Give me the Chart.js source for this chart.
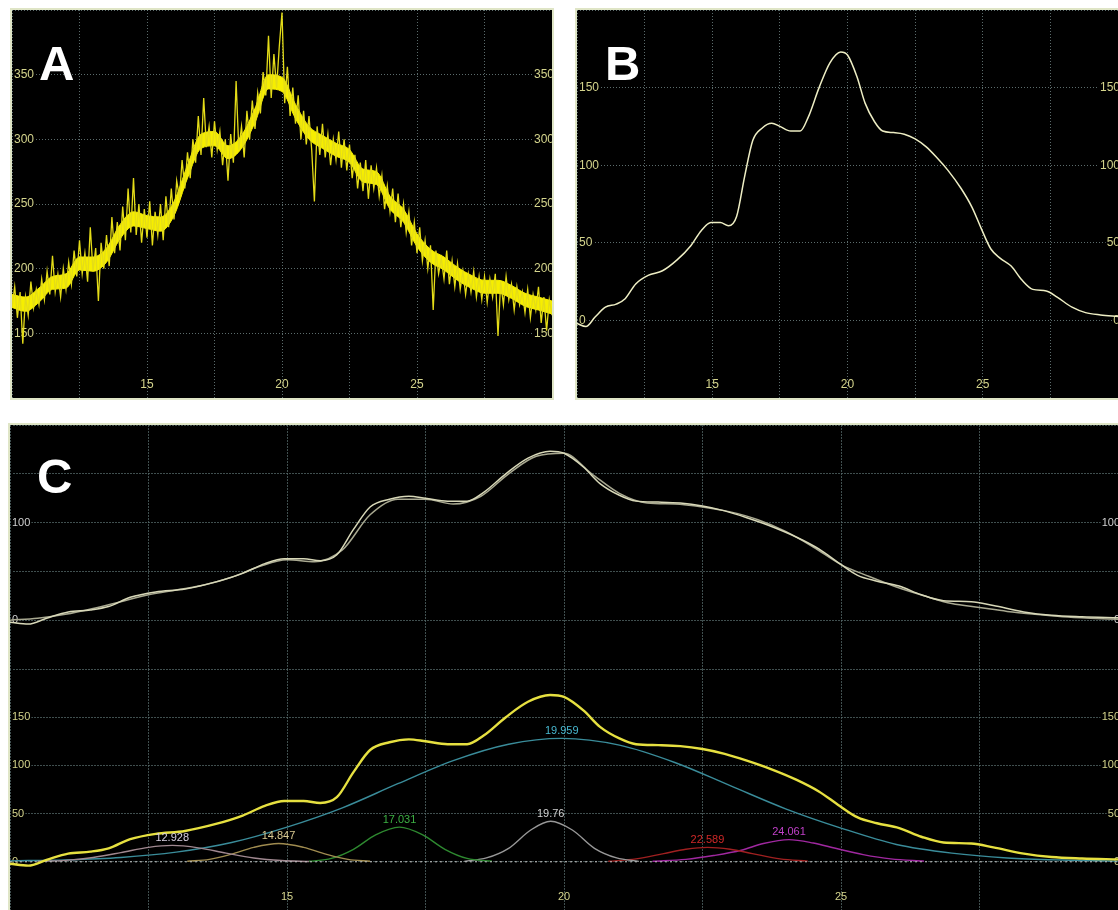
<!DOCTYPE html>
<html>
<head>
<meta charset="utf-8">
<script src="https://cdn.jsdelivr.net/npm/chart.js@4.4.0/dist/chart.umd.min.js"></script>
<style>
  body {
    margin: 0;
    width: 1118px;
    height: 910px;
    overflow: hidden;
    position: relative;
    background: #fff;
    font-family: "Liberation Sans", Arial, sans-serif;
  }
  .panel { position: absolute; background: #000; border: 2px solid #dfe5c6; }
  #panelA { left: 10px; top: 8px; width: 540px; height: 388px; }
  #panelB { left: 575px; top: 8px; width: 541px; height: 388px; }
  #panelC { left: 8px; top: 423px; width: 1108px; height: 485px; }
  canvas { display: block; }
  .tag {
    position: absolute;
    color: #fff;
    font: bold 49px "Liberation Sans", Arial, sans-serif;
    line-height: 1;
  }
</style>
</head>
<body>
<div class="panel" id="panelA"><canvas id="chartA" width="540" height="388"></canvas></div>
<div class="panel" id="panelB"><canvas id="chartB" width="541" height="388"></canvas></div>
<div class="panel" id="panelC">
  <canvas id="chartCTop" width="1108" height="244"></canvas>
  <canvas id="chartCBottom" width="1108" height="241"></canvas>
</div>
<div class="tag" style="left:39px; top:39px;">A</div>
<div class="tag" style="left:605px; top:39px;">B</div>
<div class="tag" style="left:37px; top:452px;">C</div>

<script>
// ---------------- DATA -----------------------------

// A: raw signal, one reading every 0.1 from x = 10 to x = 30
const rawStart = 10;
const rawStep = 0.1;
const rawY = [
  170, 186, 162, 182, 142, 178, 164, 190, 170, 184,
  172, 192, 176, 198, 180, 210, 182, 196, 178, 200,
  184, 205, 188, 214, 194, 222, 196, 212, 190, 232,
  198, 216, 175, 220, 200, 226, 202, 240, 212, 236,
  214, 248, 222, 262, 228, 270, 226, 250, 220, 246,
  224, 252, 218, 244, 226, 250, 222, 256, 232, 262,
  238, 268, 255, 284, 262, 290, 270, 300, 282, 318,
  288, 332, 294, 310, 286, 314, 292, 306, 280, 300,
  268, 304, 282, 345, 292, 310, 286, 322, 300, 330,
  308, 336, 320, 352, 334, 380, 332, 366, 340, 372,
  398, 328, 356, 318, 340, 312, 334, 300, 322, 296,
  318, 292, 252, 310, 288, 312, 286, 304, 280, 300,
  284, 306, 278, 300, 276, 296, 270, 288, 262, 282,
  260, 284, 254, 280, 262, 278, 256, 272, 246, 264,
  244, 262, 236, 258, 232, 250, 228, 244, 218, 236,
  212, 232, 206, 222, 200, 218, 168, 214, 196, 208,
  192, 214, 188, 206, 186, 204, 184, 198, 180, 196,
  182, 198, 178, 194, 176, 194, 174, 192, 178, 196,
  148, 190, 172, 194, 176, 188, 168, 186, 172, 182,
  166, 184, 162, 180, 168, 186, 158, 178, 152, 176,
  164,
];

// A: edges of the dense core of the trace, every 0.5
const bandX = [
  10, 10.5, 11, 11.5, 12, 12.5, 13, 13.5, 14, 14.5,
  15, 15.5, 16, 16.5, 17, 17.5, 18, 18.5, 19, 19.5,
  20, 20.5, 21, 21.5, 22, 22.5, 23, 23.5, 24, 24.5,
  25, 25.5, 26, 26.5, 27, 27.5, 28, 28.5, 29, 29.5,
  30,
];
const bandHigh = [
  180, 178, 185, 194, 196, 209, 209, 216, 234, 244,
  241, 240, 252, 280, 304, 306, 295, 303, 324, 350,
  348, 327, 310, 303, 297, 292, 277, 275, 256, 246,
  227, 215, 209, 201, 195, 191, 191, 187, 181, 178,
  175,
];
const bandLow = [
  170, 167, 174, 184, 185, 199, 198, 205, 223, 233,
  231, 229, 241, 270, 293, 295, 285, 293, 313, 339,
  337, 316, 300, 293, 287, 282, 267, 265, 246, 236,
  217, 205, 199, 191, 185, 181, 181, 177, 171, 168,
  165,
];

// B and C: smoothed signal
const smoothX = [
  10, 10.33, 10.66, 11.05, 11.45, 11.78, 12.17, 12.63, 13.16, 13.7,
  14.2, 14.6, 14.95, 15.3, 15.6, 15.9, 16.2, 16.5, 16.85, 17.2,
  17.5, 17.9, 18.25, 18.55, 18.95, 19.35, 19.75, 20.0, 20.35, 20.65,
  21.0, 21.3, 21.7, 22.1, 22.5, 22.9, 23.3, 23.7, 24.2, 24.6,
  24.95, 25.3, 25.65, 26.05, 26.45, 26.85, 27.35, 27.75, 28.3, 28.8,
  29.35, 30,
];
const smoothY = [
  -2, -4, 2, 8.5, 10.5, 14, 23.5, 29, 32, 39,
  48, 58, 63, 63, 61, 67, 93, 116, 124, 127,
  125, 122, 122, 131, 150, 166, 173, 171, 157, 140,
  128, 122, 121, 120, 117, 112, 105, 97, 85, 73,
  59, 46, 40, 35, 26, 20, 19, 15, 8.5, 5,
  3.5, 2.5,
];

// C top: sum of the fitted peaks
const fitX = bandX;
const fitY = [
  0, 2, 6, 12, 19, 26, 31, 36, 44, 55,
  62, 60, 72, 108, 124, 124, 119, 127, 150, 168,
  171, 150, 130, 120, 119, 116, 111, 103, 91, 75,
  57, 45, 34, 25, 17, 13, 9, 6, 3.5, 2,
  1,
];

// C bottom: the fitted peaks
const peakCentre = [12.928, 14.847, 17.031, 19.76, 19.959, 22.589, 24.061];
const peakHeight = [17, 19, 36, 42, 128, 15, 23];
const peakX = [
  [10.5, 11, 11.5, 12, 12.5, 12.93, 13.4, 13.9, 14.4, 14.9, 15.4],
  [13.2, 13.6, 14.0, 14.4, 14.85, 15.3, 15.7, 16.1, 16.5],
  [15.4, 15.8, 16.2, 16.6, 17.03, 17.45, 17.85, 18.25, 18.7],
  [18.2, 18.6, 19.0, 19.4, 19.76, 20.15, 20.55, 20.95, 21.35],
  [10, 11, 12, 13, 14, 15, 16, 17, 18, 19, 19.96, 21, 22, 23, 24, 25, 26, 27, 28, 29, 30],
  [20.8, 21.3, 21.8, 22.2, 22.59, 23.0, 23.4, 23.9, 24.4],
  [21.6, 22.2, 22.7, 23.2, 23.6, 24.06, 24.5, 24.9, 25.4, 25.9, 26.5],
];
const peakY = [
  [0.5, 1.5, 4.5, 9.5, 15, 17, 14.5, 9, 4, 1.3, 0.3],
  [0.5, 2.5, 8, 15, 19, 15, 8, 2.5, 0.5],
  [0.5, 3.5, 13, 28, 36, 28, 13, 3.5, 0.5],
  [0.5, 4, 14, 33, 42, 33, 14, 4, 0.5],
  [1, 2, 4.5, 10, 20, 36, 56, 81, 105, 122, 128, 121, 103, 79, 55, 35, 18, 9, 4, 1.8, 0.7],
  [0.5, 3, 8.5, 13, 15, 13, 8.5, 3, 0.7],
  [0.5, 2.5, 6.5, 12, 19, 23, 19.5, 14, 7.5, 3, 0.7],
];
const peakLine = ["#a08890", "#a08c50", "#2e8a30", "#989898", "#3a8c9a", "#a02020", "#a028a0"];
const peakText = ["#d8d0e0", "#d8c890", "#3cb043", "#d0d0d0", "#48b8d0", "#d02828", "#c040c8"];

// tick labels
const xLabels = [15, 20, 25];
const aLabels = [150, 200, 250, 300, 350];
const bLabels = [0, 50, 100, 150];
const cTopLabels = [0, 100];
const cBottomLabels = [0, 50, 100, 150];

// ---------------- HELPERS -----------------------------
const FONT = '"Liberation Sans", Arial, sans-serif';

const pairs = (xs, ys) => xs.map((x, i) => ({ x: x, y: ys[i] }));

// axes take no room, labels sit inside the black plot
const flat = (s) => {
  if (s.isHorizontal()) s.height = 0;
  else s.width = 0;
  s.paddingTop = s.paddingBottom = s.paddingLeft = s.paddingRight = 0;
};

function xAxis(show, color, size, gridColor, dash) {
  return {
    type: "linear",
    min: 10,
    max: 30,
    afterFit: flat,
    ticks: {
      stepSize: 2.5,
      autoSkip: false,
      maxRotation: 0,
      mirror: true,
      padding: 6,
      color: color,
      font: { family: FONT, size: size },
      callback: (v) => (show && xLabels.includes(v) ? String(v) : ""),
    },
    grid: { color: gridColor, drawTicks: false },
    border: { display: false, dash: dash },
  };
}

function yAxis(side, min, max, labels, color, size, gridColor, dash) {
  return {
    type: "linear",
    position: side,
    min: min,
    max: max,
    afterFit: flat,
    ticks: {
      stepSize: 50,
      mirror: true,
      padding: 2,
      color: color,
      font: { family: FONT, size: size },
      showLabelBackdrop: true,
      backdropColor: "#000",
      backdropPadding: 1,
      callback: (v) => (labels.includes(v) ? String(v) : ""),
    },
    grid: { display: side === "left", color: gridColor, drawTicks: false },
    border: { display: false, dash: dash },
  };
}

function lineSet(data, color, width, extra) {
  return Object.assign(
    {
      data: data,
      borderColor: color,
      borderWidth: width,
      pointRadius: 0,
      fill: false,
      cubicInterpolationMode: "monotone",
    },
    extra || {}
  );
}

const baseOptions = {
  responsive: false,
  animation: false,
  layout: { padding: 0 },
  plugins: { legend: { display: false }, tooltip: { enabled: false } },
};

// ---------------- CHART A -----------------------------
const gridAB = "rgba(115,135,135,0.8)";
const rawData = rawY.map((y, i) => ({ x: rawStart + i * rawStep, y: y }));

const chartAConfig = {
  type: "line",
  data: {
    datasets: [
      // spiky trace on top of a thin solid core
      lineSet(rawData, "#e4dc18", 1.3, { tension: 0, cubicInterpolationMode: "default" }),
      lineSet(pairs(bandX, bandHigh), "#f6ee00", 1, { fill: "+1", backgroundColor: "#f6ee00" }),
      lineSet(pairs(bandX, bandLow), "#f6ee00", 1),
    ],
  },
  options: Object.assign({}, baseOptions, {
    scales: {
      x: xAxis(true, "#d4d48c", 12, gridAB, [1, 2]),
      y: yAxis("left", 100, 400, aLabels, "#d4d48c", 12, gridAB, [1, 2]),
      y2: yAxis("right", 100, 400, aLabels, "#d4d48c", 12, gridAB, [1, 2]),
    },
  }),
};
const chartA = new Chart(document.getElementById("chartA"), chartAConfig);

// ---------------- CHART B -----------------------------
const chartBConfig = {
  type: "line",
  data: { datasets: [lineSet(pairs(smoothX, smoothY), "#eeeec4", 1.5)] },
  options: Object.assign({}, baseOptions, {
    scales: {
      x: xAxis(true, "#d4d48c", 12, gridAB, [1, 2]),
      y: yAxis("left", -50, 200, bLabels, "#d4d48c", 12, gridAB, [1, 2]),
      y2: yAxis("right", -50, 200, bLabels, "#d4d48c", 12, gridAB, [1, 2]),
    },
  }),
};
const chartB = new Chart(document.getElementById("chartB"), chartBConfig);

// ---------------- CHART C -----------------------------
const gridC = "rgba(85,105,105,0.75)";

// top: signal against the sum of the fit
const chartCTopConfig = {
  type: "line",
  data: {
    datasets: [
      lineSet(pairs(smoothX, smoothY), "#d8d8b8", 1.5),
      lineSet(pairs(fitX, fitY), "#a8a890", 1.5),
    ],
  },
  options: Object.assign({}, baseOptions, {
    scales: {
      x: xAxis(false, "#d0d0d0", 11, gridC, [2, 1]),
      y: yAxis("left", -50, 200, cTopLabels, "#d0d0d0", 11, gridC, [2, 1]),
      y2: yAxis("right", -50, 200, cTopLabels, "#d0d0d0", 11, gridC, [2, 1]),
    },
  }),
};
const chartCTop = new Chart(document.getElementById("chartCTop"), chartCTopConfig);

// bottom: signal with each fitted peak and its position written above it
const peakLabels = {
  id: "peakLabels",
  afterDatasetsDraw(chart) {
    const { ctx, scales } = chart;
    ctx.save();
    ctx.font = "11px " + FONT;
    ctx.textAlign = "center";
    ctx.textBaseline = "bottom";
    peakCentre.forEach((c, i) => {
      ctx.fillStyle = peakText[i];
      ctx.fillText(String(c), scales.x.getPixelForValue(c), scales.y.getPixelForValue(peakHeight[i]) - 2);
    });
    ctx.restore();
  },
};

const bottomSets = [
  lineSet(pairs(smoothX, smoothY), "#e6e040", 2.4),
  lineSet([{ x: 10, y: 0 }, { x: 30, y: 0 }], "#c8c8c8", 1, { borderDash: [2, 3] }),
];
peakX.forEach((xs, i) => bottomSets.push(lineSet(pairs(xs, peakY[i]), peakLine[i], 1.4)));

const chartCBottomConfig = {
  type: "line",
  data: { datasets: bottomSets },
  options: Object.assign({}, baseOptions, {
    scales: {
      x: xAxis(true, "#d4d48c", 11, gridC, [2, 1]),
      y: yAxis("left", -50, 200, cBottomLabels, "#d4d48c", 11, gridC, [2, 1]),
      y2: yAxis("right", -50, 200, cBottomLabels, "#d4d48c", 11, gridC, [2, 1]),
    },
  }),
  plugins: [peakLabels],
};
const chartCBottom = new Chart(document.getElementById("chartCBottom"), chartCBottomConfig);
</script>
</body>
</html>
